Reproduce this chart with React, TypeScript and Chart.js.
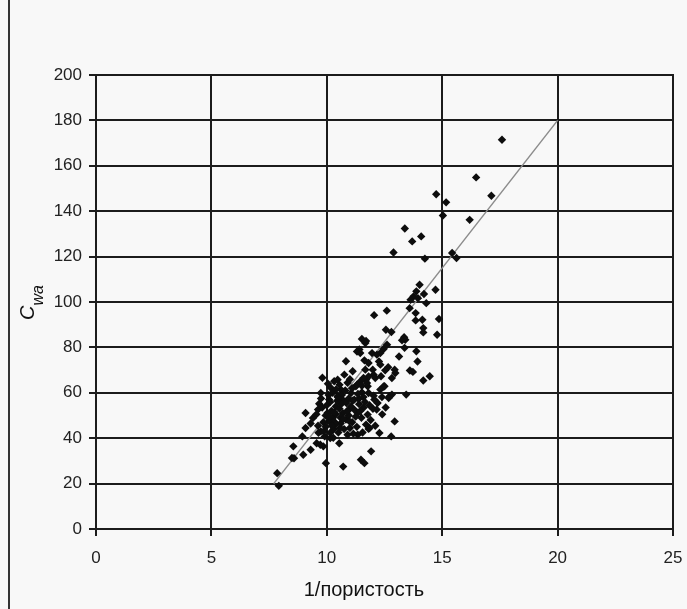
import React, { useEffect, useRef } from 'react';
import { Chart, registerables } from 'chart.js';

Chart.register(...registerables);

// Axis ranges / ticks
const xTickValues = [0, 5, 10, 15, 20, 25];
const yTickValues = [0, 20, 40, 60, 80, 100, 120, 140, 160, 180, 200];
const xAxisTitle = '1/пористость';
const yAxisTitleMain = 'C';
const yAxisTitleSub = 'wa';

// Reference line (model)
const lineX = [7.7, 20];
const lineY = [20, 180];

// Scatter data: 1/porosity (x) and Cwa (y)
const inversePorosity = [
  17.59, 16.47, 17.13, 14.74, 15.17, 15.03, 16.19, 13.38, 14.09, 13.70, 12.89, 14.25, 15.43, 15.62,
  14.02, 13.88, 14.21, 14.71, 13.76, 13.63, 13.95, 14.31,
  13.59, 13.85, 12.60, 12.05, 14.14, 14.86, 13.85, 14.18, 14.18, 12.56, 12.80, 13.35, 14.78, 11.52, 11.70, 13.40, 13.26,
  11.41, 12.46, 12.61, 11.67, 13.37, 13.88, 11.31, 11.45, 11.96, 12.17, 12.32, 13.13, 13.93, 12.26, 12.32, 12.66, 12.53,
  11.81, 11.63, 11.67, 10.83, 12.94, 12.82, 13.60, 13.73, 11.99, 11.12, 12.97,
  9.81, 9.74, 9.67, 10.17, 10.10, 10.32, 10.47, 10.47, 10.61, 10.68, 10.76, 10.90, 11.05, 11.19, 11.26, 11.70, 11.77,
  12.06, 12.35, 12.50, 12.72, 13.44, 14.18, 14.46, 12.03,
  12.10, 11.81, 11.59, 11.45, 11.74, 11.31, 11.52, 12.46, 12.32, 12.82, 12.68, 12.39, 12.03, 11.81, 11.52, 11.59, 11.38,
  9.08, 9.40, 9.62, 10.03, 10.25, 10.39, 10.83, 10.97, 11.34, 11.77, 12.16, 12.94, 9.08, 9.62, 9.74, 9.91, 10.15, 11.34,
  11.85, 12.28, 12.79, 8.94,
  9.80, 10.00, 9.95, 10.10, 9.85, 9.64, 9.86, 10.15, 10.28, 11.81,
  10.20, 10.40, 10.55, 10.60, 10.70, 10.85, 10.95, 11.05, 11.10, 11.20, 11.30, 11.40, 11.50, 11.60, 11.70, 11.90, 12.00,
  10.30, 10.50, 10.75, 10.90, 11.00, 11.15, 11.55, 10.45, 10.65, 10.80, 10.95, 11.10, 11.35, 10.25, 10.05, 10.55, 11.00,
  10.35, 9.95, 10.60, 11.25, 11.45, 11.65, 11.85, 12.20, 12.40, 12.55, 12.10, 9.75, 9.55, 9.30, 10.15, 10.40,
  10.12, 10.38, 10.62, 10.88, 11.12, 10.22, 10.48, 10.72, 10.98, 10.08, 10.32, 10.58,
  7.85, 7.92, 8.55, 8.58, 8.98, 9.30, 9.56, 9.85, 9.96, 10.54, 10.71, 11.48, 11.63, 11.92, 9.72, 8.49,
];
const cwaValues = [
  171.5, 154.9, 146.8, 147.5, 143.9, 138.1, 136.2, 132.4, 128.9, 126.7, 121.8, 119.1, 121.6, 119.4,
  107.6, 104.7, 103.5, 105.4, 102.5, 101.0, 101.7, 99.5,
  97.3, 95.1, 96.2, 94.2, 92.2, 92.5, 91.9, 88.5, 86.6, 87.8, 86.8, 84.5, 85.6, 83.7, 82.8, 83.4, 83.1,
  79.1, 79.3, 81.2, 81.9, 79.8, 78.3, 78.2, 77.5, 77.5, 76.8, 77.5, 76.0, 73.8, 73.8, 72.4, 71.3, 69.9,
  73.1, 74.3, 70.2, 73.9, 70.2, 66.5, 69.8, 69.2, 70.2, 69.5, 68.7,
  66.6, 59.9, 55.2, 62.2, 57.0, 65.1, 65.8, 58.5, 61.4, 57.0, 68.0, 64.4, 59.9, 57.0, 62.9, 65.8, 62.9,
  57.0, 67.3, 62.9, 58.5, 59.2, 65.4, 67.3, 68.0,
  66.5, 67.2, 66.5, 65.0, 64.3, 63.6, 63.1, 62.8, 61.4, 59.2, 57.7, 58.1, 58.7, 59.9, 60.2, 58.1, 57.3,
  51.1, 48.9, 52.6, 51.1, 48.9, 54.0, 48.2, 52.6, 51.1, 50.4, 52.6, 47.4, 44.5, 45.5, 43.0, 40.8, 40.1, 41.5,
  44.5, 42.3, 40.8, 40.8,
  53.5, 54.5, 50.0, 47.5, 47.0, 42.4, 43.0, 42.4, 40.2, 44.1,
  52.0, 50.5, 53.0, 46.5, 51.0, 55.5, 50.0, 54.0, 47.0, 52.5, 45.0, 55.0, 49.0, 53.5, 46.0, 48.0, 53.0,
  44.0, 42.5, 44.0, 41.5, 44.5, 42.0, 42.5, 56.5, 59.0, 61.0, 57.5, 62.0, 59.5, 60.0, 64.0, 63.5, 66.0,
  47.0, 45.0, 49.0, 49.5, 52.0, 56.0, 54.5, 55.5, 50.5, 53.5, 45.5, 57.5, 50.5, 46.5, 56.0, 61.5,
  49.5, 46.0, 55.0, 52.0, 56.5, 45.5, 58.0, 48.5, 47.5, 59.0, 51.5, 44.5,
  24.6, 19.0, 36.4, 31.2, 32.7, 34.9, 37.8, 36.4, 29.0, 37.8, 27.5, 30.5, 29.0, 34.2, 37.1, 31.3,
];

const FONT = "'Liberation Sans', Arial, sans-serif";

const axisTitlesPlugin = {
  id: 'axisTitles',
  afterDraw(chart: any) {
    const ctx = chart.ctx;
    // x axis title
    ctx.save();
    ctx.fillStyle = '#111';
    ctx.font = `20px ${FONT}`;
    ctx.textAlign = 'center';
    ctx.textBaseline = 'middle';
    ctx.fillText(xAxisTitle, 364, 590);
    ctx.restore();
    // y axis title with subscript
    ctx.save();
    ctx.fillStyle = '#111';
    ctx.translate(34, 320);
    ctx.rotate(-Math.PI / 2);
    ctx.textBaseline = 'alphabetic';
    ctx.textAlign = 'left';
    ctx.font = `italic 20px ${FONT}`;
    ctx.fillText(yAxisTitleMain, 0, 0);
    const w = ctx.measureText(yAxisTitleMain).width;
    ctx.font = `italic 16px ${FONT}`;
    ctx.fillText(yAxisTitleSub, w, 9);
    ctx.restore();
  },
};

export default function App() {
  const canvasRef = useRef<HTMLCanvasElement | null>(null);

  useEffect(() => {
    document.body.style.margin = '0';
    const canvas = canvasRef.current;
    if (!canvas) return;
    const points = inversePorosity.map((x, i) => ({ x, y: cwaValues[i] }));
    const linePoints = lineX.map((x, i) => ({ x, y: lineY[i] }));
    const gridColor = '#1c1c1c';
    const chart = new Chart(canvas, {
      type: 'scatter',
      data: {
        datasets: [
          {
            label: 'line',
            data: linePoints,
            showLine: true,
            borderColor: '#8c8c8c',
            borderWidth: 1.5,
            pointRadius: 0,
            order: 2,
          },
          {
            label: 'data',
            data: points,
            pointStyle: 'rectRot',
            pointRadius: 4.2,
            backgroundColor: '#0d0d0d',
            borderColor: '#0d0d0d',
            borderWidth: 0,
            order: 1,
          },
        ],
      },
      options: {
        animation: false,
        responsive: false,
        devicePixelRatio: 1,
        layout: { padding: { left: 0, right: 14, top: 75, bottom: 0 } },
        plugins: { legend: { display: false }, tooltip: { enabled: false } },
        scales: {
          x: {
            type: 'linear',
            min: 0,
            max: 25,
            afterBuildTicks: (scale: any) => {
              scale.ticks = xTickValues.map((v) => ({ value: v }));
            },
            afterFit: (scale: any) => {
              scale.height = 80;
              scale.paddingLeft = 0;
              scale.paddingRight = 0;
            },
            grid: { color: gridColor, lineWidth: 2, tickLength: 7, drawTicks: true },
            border: { display: true, color: gridColor, width: 2 },
            ticks: { color: '#222', font: { family: FONT, size: 17 }, padding: 12, maxRotation: 0 },
            title: { display: false, text: xAxisTitle },
          },
          y: {
            type: 'linear',
            min: 0,
            max: 200,
            afterBuildTicks: (scale: any) => {
              scale.ticks = yTickValues.map((v) => ({ value: v }));
            },
            afterFit: (scale: any) => {
              scale.width = 96;
              scale.paddingTop = 0;
              scale.paddingBottom = 0;
            },
            grid: { color: gridColor, lineWidth: 2, tickLength: 7, drawTicks: true },
            border: { display: true, color: gridColor, width: 2 },
            ticks: { color: '#222', font: { family: FONT, size: 17 }, padding: 7 },
          },
        },
      },
      plugins: [
        {
          id: 'rightTopBorder',
          afterDatasetsDraw(c: any) {
            const { left, right, top, bottom } = c.chartArea;
            const ctx = c.ctx;
            ctx.save();
            ctx.strokeStyle = gridColor;
            ctx.lineWidth = 2;
            ctx.strokeRect(left, top, right - left, bottom - top);
            ctx.restore();
          },
        },
        axisTitlesPlugin,
      ],
    } as any);
    return () => chart.destroy();
  }, []);

  return (
    <div style={{ position: 'relative', width: 687, height: 609, background: '#f8f8f8', overflow: 'hidden' }}>
      <div style={{ position: 'absolute', left: 8, top: 0, width: 2, height: 609, background: '#333' }} />
      <canvas ref={canvasRef} width={687} height={609} style={{ position: 'absolute', left: 0, top: 0 }} />
    </div>
  );
}
